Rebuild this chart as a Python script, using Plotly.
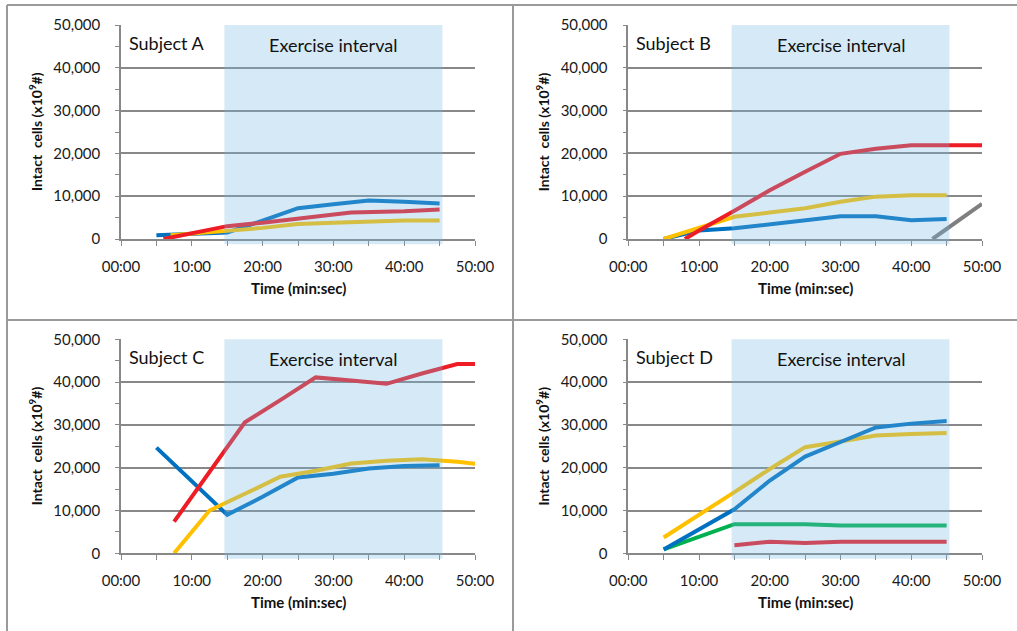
import plotly.graph_objects as go

# ---- data (time in minutes, intact cells x10^9) ----
a_blue_t = [5, 10, 15, 20, 25, 30, 35, 40, 45]
a_blue = [900, 1200, 1500, 4300, 7200, 8100, 9000, 8700, 8300]
a_red_t = [6, 15, 20, 25, 32.5, 40, 45]
a_red = [0, 3000, 3800, 4800, 6200, 6500, 6900]
a_yel_t = [7, 10, 15, 20, 25, 30, 35, 40, 45]
a_yel = [900, 1200, 1900, 2600, 3500, 3800, 4100, 4300, 4300]

b_blue_t = [5, 10, 15, 20, 25, 30, 35, 40, 45]
b_blue = [0, 2000, 2500, 3500, 4500, 5300, 5300, 4400, 4700]
b_yel_t = [5, 10, 15, 20, 25, 30, 35, 40, 45]
b_yel = [0, 2500, 5200, 6200, 7200, 8700, 9900, 10200, 10200]
b_red_t = [8, 10, 15, 20, 25, 30, 35, 40, 45, 50]
b_red = [0, 2000, 6600, 11400, 15700, 19900, 21100, 21900, 21900, 21900]
b_gray_t = [43, 50]
b_gray = [0, 8200]

c_blue_t = [5, 15, 20, 25, 30, 35, 40, 45]
c_blue = [24700, 9000, 13200, 17700, 18600, 19800, 20400, 20600]
c_red_t = [7.5, 12.5, 17.5, 22.5, 27.5, 32.5, 37.5, 42.5, 47.5, 52.5]
c_red = [7400, 19000, 30600, 35800, 41100, 40400, 39600, 42000, 44200, 44200]
c_yel_t = [7.5, 12.5, 17.5, 22.5, 27.5, 32.5, 37.5, 42.5, 47.5, 52.5]
c_yel = [0, 10000, 13900, 17900, 19300, 21000, 21600, 22000, 21400, 20400]

d_blue_t = [5, 10, 15, 20, 25, 30, 35, 40, 45]
d_blue = [900, 5600, 10300, 17000, 22600, 26000, 29400, 30300, 30900]
d_yel_t = [5, 10, 15, 20, 25, 30, 35, 40, 45]
d_yel = [3700, 8900, 14300, 19700, 24800, 26100, 27500, 27900, 28100]
d_grn_t = [5, 10, 15, 20, 25, 30, 35, 40, 45]
d_grn = [900, 3900, 6800, 6800, 6800, 6500, 6500, 6500, 6500]
d_red_t = [15, 20, 25, 30, 35, 40, 45]
d_red = [1900, 2700, 2400, 2700, 2700, 2700, 2700]

x_tickvals = [0, 10, 20, 30, 40, 50]
x_ticktext = ["00:00", "10:00", "20:00", "30:00", "40:00", "50:00"]
y_tickvals = [0, 10000, 20000, 30000, 40000, 50000]
subjects = ["Subject A", "Subject B", "Subject C", "Subject D"]
exercise_start, exercise_end = 14.6, 45.4

# ---- styling ----
W, H = 1017, 631
FONT = "Lato"
BLUE, RED, YEL, GRN, GRAY = "#0070C0", "#EE1C25", "#FFC000", "#00B050", "#7F7F7F"
AXIS_GRAY = "#888888"
LW = 4

def px_x(p):
    return p / W

def px_y(p):
    return 1 - p / H

# plot-area pixel boxes: left, right, top, bottom
boxes = [
    (121, 475, 25, 239),
    (628.3, 982, 25, 239),
    (121, 475, 339.3, 553.3),
    (628.3, 982, 339.3, 553.3),
]

series = [
    [(a_blue_t, a_blue, BLUE), (a_yel_t, a_yel, YEL), (a_red_t, a_red, RED)],
    [(b_blue_t, b_blue, BLUE), (b_yel_t, b_yel, YEL), (b_red_t, b_red, RED), (b_gray_t, b_gray, GRAY)],
    [(c_blue_t, c_blue, BLUE), (c_yel_t, c_yel, YEL), (c_red_t, c_red, RED)],
    [(d_grn_t, d_grn, GRN), (d_red_t, d_red, RED), (d_yel_t, d_yel, YEL), (d_blue_t, d_blue, BLUE)],
]

fig = go.Figure()
layout = {}
shapes = []
annotations = []

for i, (box, lines) in enumerate(zip(boxes, series)):
    s = "" if i == 0 else str(i + 1)
    left, right, top, bottom = box
    for t, v, col in lines:
        fig.add_trace(go.Scatter(
            x=t, y=v, mode="lines", xaxis="x" + s, yaxis="y" + s,
            line=dict(color=col, width=LW), showlegend=False, hoverinfo="skip",
        ))
    layout["xaxis" + s] = dict(
        domain=[px_x(left), px_x(right)], range=[0, 50], anchor="y" + s,
        showline=True, linecolor=AXIS_GRAY, linewidth=1.5, mirror=False,
        ticks="outside", ticklen=5, tickwidth=1.3, tickcolor=AXIS_GRAY,
        tickvals=x_tickvals, ticktext=x_ticktext,
        tickfont=dict(family=FONT, size=15, color="#1a1a1a"),
        ticklabelstandoff=8, automargin=False,
        minor=dict(dtick=5, tick0=0, ticks="outside", ticklen=5, tickwidth=1.3,
                   tickcolor=AXIS_GRAY, showgrid=False),
        showgrid=False, zeroline=False, fixedrange=True,
    )
    layout["yaxis" + s] = dict(
        domain=[px_y(bottom), px_y(top)], range=[0, 50000], anchor="x" + s,
        showline=True, linecolor=AXIS_GRAY, linewidth=1.5,
        ticks="outside", ticklen=4, tickwidth=1.3, tickcolor=AXIS_GRAY,
        tickvals=y_tickvals, tickformat=",",
        tickfont=dict(family=FONT, size=15, color="#1a1a1a"),
        ticklabelstandoff=12, automargin=False,
        minor=dict(dtick=5000, tick0=0, ticks="outside", ticklen=4, tickwidth=1.3,
                   tickcolor=AXIS_GRAY, showgrid=False),
        showgrid=True, gridcolor=AXIS_GRAY, gridwidth=1.5,
        zeroline=False, fixedrange=True,
    )
    # translucent exercise band drawn over the lines
    shapes.append(dict(
        type="rect", xref="x" + s, yref="y" + s + " domain",
        x0=exercise_start, x1=exercise_end, y0=-0.025, y1=1,
        fillcolor="rgba(115,185,225,0.30)", line=dict(width=0), layer="above",
    ))
    annotations.append(dict(
        text=subjects[i], xref="paper", yref="paper",
        x=px_x(left + 6), y=px_y(top + 18), xanchor="left", yanchor="middle",
        showarrow=False, font=dict(family=FONT, size=18, color="#111111"),
    ))
    annotations.append(dict(
        text="Exercise interval", xref="x" + s, yref="paper",
        x=(exercise_start + exercise_end) / 2, y=px_y(top + 20),
        xanchor="center", yanchor="middle",
        showarrow=False, font=dict(family=FONT, size=18, color="#111111"),
    ))
    annotations.append(dict(
        text="<b>Time (min:sec)</b>", xref="paper", yref="paper",
        x=px_x((left + right) / 2), y=px_y(bottom + 49), xanchor="center", yanchor="middle",
        showarrow=False, font=dict(family=FONT, size=15, color="#111111"),
    ))
    annotations.append(dict(
        text="<b>Intact  cells (x10<sup>9</sup>#)</b>", xref="paper", yref="paper",
        x=px_x(left - 86), y=px_y((top + bottom) / 2), xanchor="center", yanchor="middle",
        textangle=-90, showarrow=False, font=dict(family=FONT, size=14, color="#111111"),
    ))

# panel frames
BORDER = "#9a9a9a"
for y in (5, 320):
    shapes.append(dict(type="line", xref="paper", yref="paper",
                       x0=px_x(7), x1=1, y0=px_y(y), y1=px_y(y),
                       line=dict(color=BORDER, width=2)))
for x in (7, 513):
    shapes.append(dict(type="line", xref="paper", yref="paper",
                       x0=px_x(x), x1=px_x(x), y0=0, y1=px_y(5),
                       line=dict(color=BORDER, width=2)))

fig.update_layout(
    width=W, height=H,
    margin=dict(l=0, r=0, t=0, b=0, pad=0, autoexpand=False),
    paper_bgcolor="white", plot_bgcolor="white",
    shapes=shapes, annotations=annotations,
    font=dict(family=FONT), **layout,
)

fig.write_html("out.html")
